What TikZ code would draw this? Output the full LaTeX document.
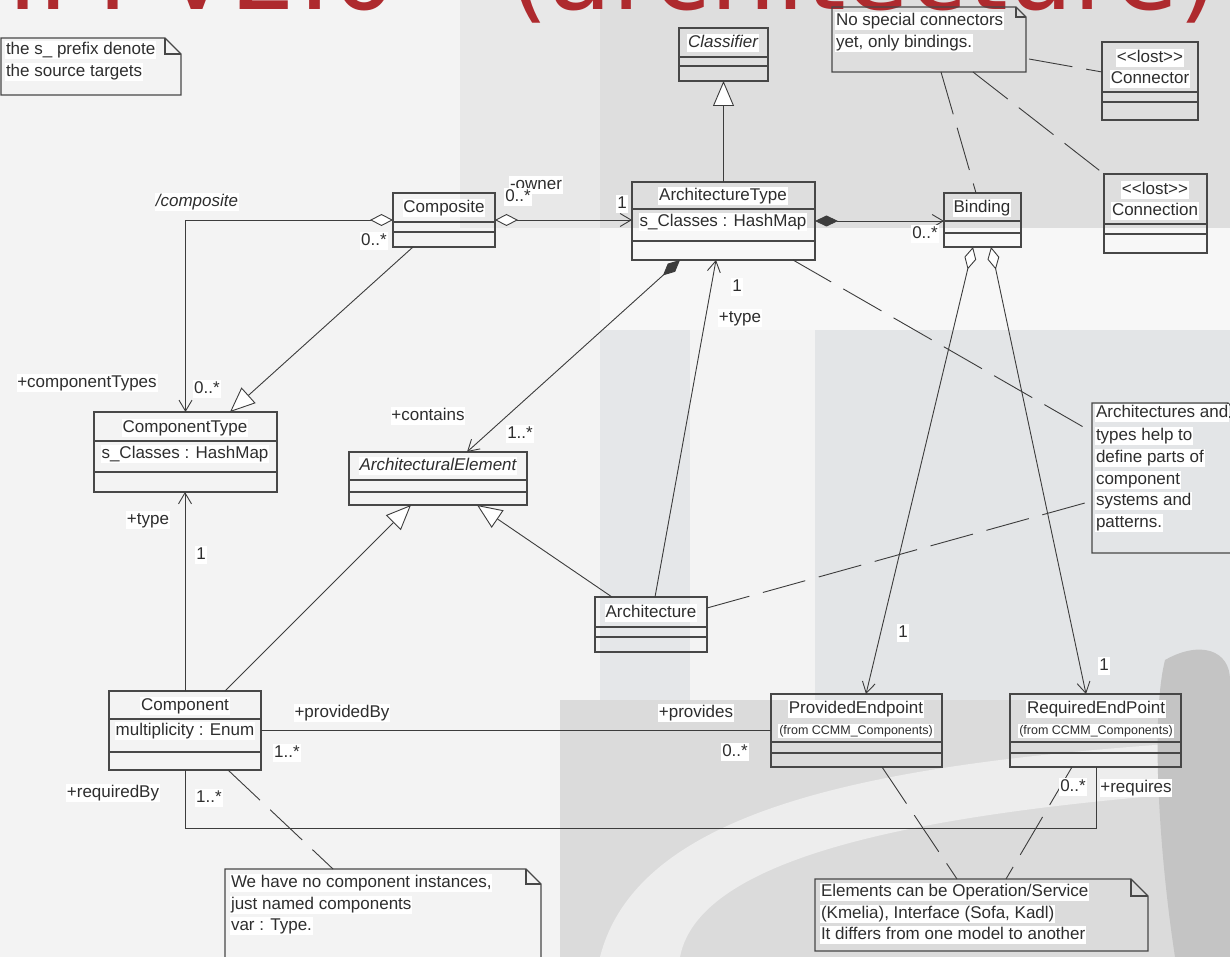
\documentclass[tikz,border=0pt]{standalone}
\usepackage{fontspec}
\setmainfont{Liberation Sans}
\newfontfamily\titlefont{DejaVu Sans}
\usetikzlibrary{arrows.meta,calc}
\definecolor{ink}{HTML}{3C3C3C}
\definecolor{boxink}{HTML}{474747}
\definecolor{txt}{HTML}{2E2E2E}
\definecolor{titlered}{HTML}{AE2A2E}
\tikzset{
  clsbox/.style={draw=boxink, line width=1.3pt, inner sep=0pt, outer sep=0pt},
  clsline/.style={draw=boxink, line width=1.1pt},
  noteline/.style={draw=boxink, line width=1.1pt},
  lbl/.style={fill=white, inner sep=0.8pt, text=txt, text height=12.5pt, text depth=3.5pt, font=\fontsize{17}{20}\selectfont},
  smalllbl/.style={fill=white, inner sep=0.8pt, text=txt, text height=9.5pt, text depth=3pt, font=\fontsize{12.5}{15}\selectfont},
  titletext/.style={text=titlered, inner sep=0pt, font=\titlefont\fontsize{104}{104}\selectfont},
  assoc/.style={draw=ink, line width=0.9pt},
  gen/.style={draw=ink, line width=0.9pt, -{Triangle[open, fill=white, length=25pt, width=21pt]}},
  barb/.style={-{Straight Barb[length=11pt, width=13pt]}},
  odiabarb/.style={{Diamond[open, fill=white, length=23pt, width=12pt]}-{Straight Barb[length=11pt, width=13pt]}},
  fdiabarb/.style={{Diamond[fill=ink, length=23pt, width=11pt]}-{Straight Barb[length=11pt, width=13pt]}},
  notelink/.style={draw=ink, line width=0.9pt, dash pattern=on 44pt off 14pt},
}
% name, x, y, width, height, divider1, divider2
\newcommand\umlclass[7]{%
  \node[clsbox, minimum width=#4pt, minimum height=#5pt, anchor=north west] (#1) at (#2,#3) {};
  \draw[clsline] ([yshift=-#6pt]#1.north west) -- ([yshift=-#6pt]#1.north east);
  \draw[clsline] ([yshift=-#7pt]#1.north west) -- ([yshift=-#7pt]#1.north east);
}
% name, x, y, width, height, fold
\newcommand\umlnote[6]{%
  \node[inner sep=0pt, outer sep=0pt, minimum width=#4pt, minimum height=#5pt, anchor=north west] (#1) at (#2,#3) {};
  \draw[noteline] (#1.north west) -- ([xshift=-#6pt]#1.north east) -- ([yshift=-#6pt]#1.north east) -- (#1.south east) -- (#1.south west) -- cycle;
  \draw[noteline] ([xshift=-#6pt]#1.north east) -- ([xshift=-#6pt,yshift=-#6pt]#1.north east) -- ([yshift=-#6pt]#1.north east);
}
\begin{document}
\begin{tikzpicture}[x=1pt, y=-1pt]
\useasboundingbox (0,0) rectangle (1230,957);
% ---------- background ----------
\fill[fill={rgb,255:red,243;green,243;blue,243}] (0,0) rectangle (1230,957);
\fill[fill={rgb,255:red,232;green,232;blue,232}] (460,0) rectangle (600,228);
\fill[fill={rgb,255:red,222;green,222;blue,222}] (600,0) rectangle (1230,228);
\fill[fill={rgb,255:red,247;green,247;blue,247}] (600,228) rectangle (1230,330);
\fill[fill={rgb,255:red,229;green,231;blue,233}] (600,330) rectangle (690,700);
\fill[fill={rgb,255:red,227;green,229;blue,231}] (815,330) rectangle (1230,700);
\fill[fill={rgb,255:red,219;green,219;blue,219}] (560,700) rectangle (1230,957);
\fill[fill={rgb,255:red,237;green,237;blue,237}] (600,957) .. controls (640,800) and (900,760) .. (1230,740) -- (1230,790) .. controls (950,810) and (700,850) .. (680,957) -- cycle;
\fill[fill={rgb,255:red,196;green,196;blue,196}] (1165,660) .. controls (1200,640) and (1230,650) .. (1230,680) -- (1230,957) -- (1175,957) .. controls (1160,860) and (1150,720) .. (1165,660) -- cycle;
% ---------- title (cut off at the top) ----------
\node[titletext, anchor=base east] (title1) at (398,10) {CCMM V2.0};
\node[titletext, anchor=base west] (title2) at (508,10) {(architecture)};
% ---------- classes ----------
\umlclass{classifier}{679}{28}{89}{53}{29}{38}
\umlclass{connector}{1102}{42}{96}{78}{50}{60}
\umlclass{connection}{1104}{174}{103}{79}{50}{60}
\umlclass{binding}{944}{193}{77}{54}{28}{40}
\umlclass{archtype}{632}{182}{183}{78}{27}{59}
\umlclass{composite}{393}{193}{102}{54}{29}{39}
\umlclass{comptype}{94}{412}{183}{80}{29}{60}
\umlclass{archelem}{349}{452}{178}{53}{28}{40}
\umlclass{arch}{595}{597}{112}{55}{30}{40}
\umlclass{component}{109}{691}{152}{79}{28}{61}
\umlclass{provided}{771}{694}{171}{73}{48}{59}
\umlclass{required}{1010}{694}{171}{73}{48}{59}
% class texts
\node[lbl, font=\fontsize{17}{20}\selectfont\itshape] (tclassifier) at (723,43) {Classifier};
\node[lbl] (tconn1) at (1150,58) {{<}{<}lost{>}{>}};
\node[lbl] (tconn2) at (1150,79) {Connector};
\node[lbl] (tcnx1) at (1155,190) {{<}{<}lost{>}{>}};
\node[lbl] (tcnx2) at (1155,211) {Connection};
\node[lbl] (tbinding) at (982,208) {Binding};
\node[lbl] (tarchtype) at (723,196) {ArchitectureType};
\node[lbl] (tarchtypeattr) at (723,222) {s\_Classes : HashMap};
\node[lbl] (tcomposite) at (444,208) {Composite};
\node[lbl] (tcomptype) at (185,428) {ComponentType};
\node[lbl] (tcomptypeattr) at (185,454) {s\_Classes : HashMap};
\node[lbl, font=\fontsize{17}{20}\selectfont\itshape] (tarchelem) at (438,466) {ArchitecturalElement};
\node[lbl] (tarch) at (651,613) {Architecture};
\node[lbl] (tcomponent) at (185,706) {Component};
\node[lbl] (tcomponentattr) at (185,731) {multiplicity : Enum};
\node[lbl] (tprovided) at (856,709) {ProvidedEndpoint};
\node[smalllbl] (tprovidedfrom) at (856,731) {(from CCMM\_Components)};
\node[lbl] (trequired) at (1096,709) {RequiredEndPoint};
\node[smalllbl] (trequiredfrom) at (1096,731) {(from CCMM\_Components)};
% ---------- notes ----------
\umlnote{noteS}{1}{38}{180}{57}{16}
\umlnote{noteConn}{832}{7}{194}{65}{10}
\umlnote{noteArch}{1092}{403}{150}{150}{14}
\umlnote{noteComp}{225}{869}{316}{100}{15}
\umlnote{noteElem}{815}{879}{333}{72}{17}
\node[lbl, anchor=west] (ns1) at (5,50) {the s\_ prefix denote};
\node[lbl, anchor=west] (ns2) at (5,72) {the source targets};
\node[lbl, anchor=west] (nc1) at (835,21) {No special connectors};
\node[lbl, anchor=west] (nc2) at (835,43) {yet, only bindings.};
\node[lbl, anchor=west] (na1) at (1095,413) {Architectures and};
\node[lbl, anchor=west] (na2) at (1095,436) {types help to};
\node[lbl, anchor=west] (na3) at (1095,458) {define parts of};
\node[lbl, anchor=west] (na4) at (1095,480) {component};
\node[lbl, anchor=west] (na5) at (1095,501) {systems and};
\node[lbl, anchor=west] (na6) at (1095,523) {patterns.};
\node[lbl, anchor=west] (nw1) at (230,883) {We have no component instances,};
\node[lbl, anchor=west] (nw2) at (230,905) {just named components};
\node[lbl, anchor=west] (nw3) at (230,926) {var : Type.};
\node[lbl, anchor=west] (ne1) at (820,892) {Elements can be Operation/Service};
\node[lbl, anchor=west] (ne2) at (820,914) {(Kmelia), Interface (Sofa, Kadl)};
\node[lbl, anchor=west] (ne3) at (820,935) {It differs from one model to another};
% ---------- connectors ----------
\draw[gen] (archtype.north) -- (classifier.south);
\draw[assoc, odiabarb] (composite.east) -- (composite.east -| archtype.west);
\draw[assoc, odiabarb] (composite.west) -| (comptype.north);
\draw[gen] ($(composite.south west)+(20,0)$) -- ($(comptype.north west)+(136,0)$);
\draw[assoc, fdiabarb] ($(archtype.south west)+(48,0)$) -- ($(archelem.north west)+(118,0)$);
\draw[assoc, barb] ($(arch.north west)+(60,0)$) -- ($(archtype.south west)+(84,0)$);
\draw[gen] ($(arch.north west)+(17,0)$) -- ($(archelem.south west)+(128,0)$);
\draw[gen] ($(component.north west)+(116,0)$) -- ($(archelem.south west)+(62,0)$);
\draw[assoc, barb] (component.north) -- (component.north |- comptype.south);
\draw[assoc, fdiabarb] (archtype.east) -- (archtype.east -| binding.west);
\draw[assoc, odiabarb] ($(binding.south west)+(29,0)$) -- ($(provided.north west)+(95,0)$);
\draw[assoc, odiabarb] ($(binding.south west)+(47,0)$) -- ($(required.north west)+(76,0)$);
\draw[assoc] (component.east) -- (component.east -| provided.west);
\draw[assoc] (component.south) |- ($(required.south west)+(86,61)$) -- ($(required.south west)+(86,0)$);
% note links
\draw[notelink] ($(noteConn.north east)+(3,52)$) -- ($(connector.north west)+(0,30)$);
\draw[notelink] ($(noteConn.south west)+(109,0)$) -- ($(binding.north west)+(32,0)$);
\draw[notelink] ($(noteConn.south west)+(141,0)$) -- (connection.north west);
\draw[notelink] ($(archtype.south west)+(161,0)$) -- ($(noteArch.north west)+(0,29)$);
\draw[notelink] ($(arch.north east)+(0,11)$) -- ($(noteArch.north west)+(0,98)$);
\draw[notelink] ($(component.south west)+(119,0)$) -- ($(noteComp.north west)+(108,0)$);
\draw[notelink] ($(provided.south west)+(111,0)$) -- ($(noteElem.north west)+(142,0)$);
\draw[notelink] ($(required.south west)+(62,0)$) -- ($(noteElem.north west)+(191,0)$);
% ---------- connector labels ----------
\node[lbl] (lowner) at (536,185) {-owner};
\node[lbl] (lownerm) at (518,197) {0..*};
\node[lbl] (lowner1) at (622,204) {1};
\node[lbl, font=\fontsize{17}{20}\selectfont\itshape] (lcomposite) at (197,202) {/composite};
\node[lbl] (lcompositem) at (374,241) {0..*};
\node[lbl] (lcomptypes) at (87,383) {+componentTypes};
\node[lbl] (lcomptypesm) at (207,389) {0..*};
\node[lbl] (lcontains) at (428,416) {+contains};
\node[lbl] (lcontainsm) at (520,434) {1..*};
\node[lbl] (larchtype1) at (737,287) {1};
\node[lbl] (larchtypet) at (740,318) {+type};
\node[lbl] (lbindingm) at (925,234) {0..*};
\node[lbl] (lprov1) at (903,633) {1};
\node[lbl] (lreq1) at (1104,666) {1};
\node[lbl] (lctype) at (148,520) {+type};
\node[lbl] (lctype1) at (201,555) {1};
\node[lbl] (lprovidedby) at (342,713) {+providedBy};
\node[lbl] (lprovidedbym) at (287,753) {1..*};
\node[lbl] (lprovides) at (696,713) {+provides};
\node[lbl] (lprovidesm) at (735,752) {0..*};
\node[lbl] (lrequiredby) at (113,793) {+requiredBy};
\node[lbl] (lrequiredbym) at (209,798) {1..*};
\node[lbl] (lrequiresm) at (1073,787) {0..*};
\node[lbl] (lrequires) at (1136,788) {+requires};
\end{tikzpicture}
\end{document}
